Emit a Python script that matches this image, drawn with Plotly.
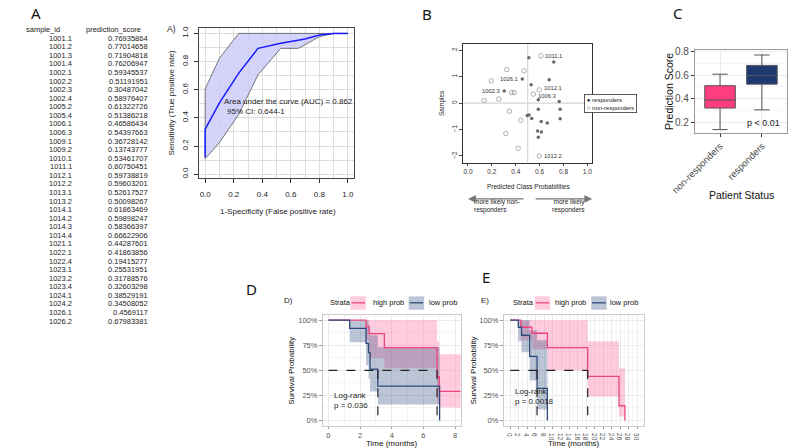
import plotly.graph_objects as go

W, H = 788, 448
FONT = "Liberation Sans"
LETTER_FONT = "Noto Sans"

def px(x):
    return x / W

def py(y):
    return 1 - y / H

# ---------------- Panel A table ----------------
sample_ids = ["1001.1", "1001.2", "1001.3", "1001.4", "1002.1", "1002.2", "1002.3", "1002.4",
              "1005.2", "1005.4", "1006.1", "1006.3", "1009.1", "1009.2", "1010.1", "1011.1",
              "1012.1", "1012.2", "1013.1", "1013.2", "1014.1", "1014.2", "1014.3", "1014.4",
              "1021.1", "1022.1", "1022.4", "1023.1", "1023.2", "1023.4", "1024.1", "1024.2",
              "1026.1", "1026.2"]
prediction_scores = ["0.76935864", "0.77014658", "0.71904818", "0.76206947", "0.59345537",
                     "0.51191951", "0.30487042", "0.58976407", "0.61322726", "0.51386218",
                     "0.46586434", "0.54397663", "0.36728142", "0.13743777", "0.53461707",
                     "0.60750451", "0.59738819", "0.59603201", "0.52617527", "0.50098267",
                     "0.61863469", "0.59898247", "0.58366397", "0.66622906", "0.44287601",
                     "0.41863856", "0.19415277", "0.25531951", "0.31788576", "0.32603298",
                     "0.38529191", "0.34508052", "0.4569117", "0.67983381"]

# ---------------- ROC (A) ----------------
roc_fpr = [0, 0, 0.1, 0.235, 0.37, 0.53, 0.7, 0.8, 0.9, 1.0]
roc_tpr = [0.12, 0.32, 0.507, 0.718, 0.894, 0.93, 0.96, 0.988, 1.0, 1.0]
ci_up_fpr = [0, 0.1, 0.235, 1.0]
ci_up_tpr = [0.606, 0.824, 1.0, 1.0]
ci_lo_fpr = [0, 0.1, 0.235, 0.37, 0.53, 0.653, 0.8, 0.9, 1.0]
ci_lo_tpr = [0.11, 0.225, 0.425, 0.706, 0.894, 0.894, 0.977, 1.0, 1.0]

# ---------------- Panel B ----------------
resp_x = [0.51, 0.719, 0.455, 0.529, 0.68, 0.304, 0.589, 0.764, 0.589, 0.772,
          0.496, 0.512, 0.534, 0.613, 0.664, 0.772, 0.583, 0.615, 0.589]
resp_y = [1.72, 1.56, 0.91, 0.69, 0.88, 0.46, 0.13, 0.06, -0.23, -0.23,
          -0.47, -0.45, -0.58, -0.7, -0.75, -0.59, -1.06, -1.09, -1.29]
nonresp_x = [0.61, 0.325, 0.469, 0.195, 0.597, 0.548, 0.366, 0.388, 0.136, 0.258,
             0.347, 0.442, 0.317, 0.42, 0.597]
nonresp_y = [1.79, 1.27, 1.22, 0.84, 0.5, 0.34, 0.4, 0.4, 0.1, 0.15,
             -0.31, -0.65, -1.15, -1.71, -2.0]
lab_text = ["1011.1", "1026.1", "1002.3", "1012.1", "1006.3", "1012.2"]
lab_x = [0.61, 0.455, 0.304, 0.597, 0.548, 0.597]
lab_y = [1.79, 0.91, 0.46, 0.5, 0.34, -2.0]
lab_side = ["right", "left", "left", "right", "right", "right"]
lab_nudge = [0, 0, 0, 1.5, -1.5, 0]

# ---------------- Panel C ----------------
box_groups = ["non-responders", "responders"]
box_q1 = [0.32, 0.523]
box_med = [0.389, 0.596]
box_q3 = [0.51, 0.682]
box_lo = [0.1374, 0.3049]
box_hi = [0.6075, 0.7701]
box_colors = ["#FF3D7F", "#1D3A70"]

# ---------------- Panel D / E survival ----------------
D_high_t = [0, 2.37, 2.57, 3.53, 6.86, 7.0]
D_high_s = [1, 0.933, 0.867, 0.727, 0.436, 0.29]
D_high_up = [1, 1, 1, 1, 0.79, 0.66]
D_high_lo = [1, 0.8, 0.62, 0.52, 0.17, 0.13]
D_high_end = 8.35
D_low_t = [0, 1.34, 2.37, 2.53, 2.63, 3.12, 7.02]
D_low_s = [1, 0.918, 0.77, 0.677, 0.513, 0.342, 0]
D_low_up = [1, 1, 1, 0.95, 0.85, 0.73, 0]
D_low_lo = [1, 0.78, 0.55, 0.42, 0.29, 0.16, 0]
D_low_end = 7.02

E_high_t = [0, 2.5, 5.1, 8.77, 18.3, 25.7, 27.1]
E_high_s = [1, 0.93, 0.87, 0.727, 0.44, 0.147, 0]
E_high_up = [1, 1, 1, 1, 0.79, 0.52, 0]
E_high_lo = [1, 0.8, 0.71, 0.5, 0.24, 0.04, 0]
E_high_end = 27.1
E_low_t = [0, 1.9, 2.66, 4.58, 6.33, 8.77]
E_low_s = [1, 0.93, 0.85, 0.64, 0.32, 0]
E_low_up = [1, 1, 1, 0.9, 0.8, 0]
E_low_lo = [1, 0.79, 0.68, 0.4, 0.11, 0]
E_low_end = 8.77

PINK = "#EE4580"
NAVY = "#2E4A7D"
PINK_FILL = "rgba(255,105,160,0.35)"
NAVY_FILL = "rgba(46,74,125,0.32)"

fig = go.Figure()

# ROC traces
poly_x = ci_up_fpr + ci_lo_fpr[::-1] + [ci_up_fpr[0]]
poly_y = ci_up_tpr + ci_lo_tpr[::-1] + [ci_up_tpr[0]]
fig.add_trace(go.Scatter(x=poly_x, y=poly_y, mode="lines", fill="toself",
                         fillcolor="rgba(205,205,250,0.85)", line=dict(color="#555555", width=0.8),
                         xaxis="x", yaxis="y", showlegend=False, hoverinfo="skip"))
fig.add_trace(go.Scatter(x=roc_fpr, y=roc_tpr, mode="lines", line=dict(color="#1a1aff", width=1.5),
                         xaxis="x", yaxis="y", showlegend=False))

# Panel B points
fig.add_trace(go.Scatter(x=nonresp_x, y=nonresp_y, mode="markers",
                         marker=dict(symbol="circle-open", size=4.5, color="#9a9a9a", line=dict(width=0.8)),
                         xaxis="x2", yaxis="y2", showlegend=False))
fig.add_trace(go.Scatter(x=resp_x, y=resp_y, mode="markers",
                         marker=dict(symbol="circle", size=3.5, color="#6a6a6a"),
                         xaxis="x2", yaxis="y2", showlegend=False))

# Panel C boxes
for i, g in enumerate(box_groups):
    fig.add_trace(go.Box(x=[i], q1=[box_q1[i]], median=[box_med[i]], q3=[box_q3[i]],
                         lowerfence=[box_lo[i]], upperfence=[box_hi[i]],
                         fillcolor=box_colors[i], line=dict(color="#555555", width=1),
                         width=0.73, xaxis="x3", yaxis="y3", showlegend=False,
                         boxpoints=False))


def steps(t, v, t_end):
    xs, ys = [], []
    for i in range(len(t)):
        t1 = t[i + 1] if i + 1 < len(t) else t_end
        xs += [t[i], t1]
        ys += [v[i], v[i]]
    return xs, ys


def add_surv(t, s, up, lo, t_end, color, fill, xa, ya):
    ux, uy = steps(t, up, t_end)
    lx, ly = steps(t, lo, t_end)
    fig.add_trace(go.Scatter(x=ux + lx[::-1], y=uy + ly[::-1], mode="lines", fill="toself",
                             fillcolor=fill, line=dict(width=0), xaxis=xa, yaxis=ya,
                             showlegend=False, hoverinfo="skip"))
    return (t + [t_end], s + [s[-1]])


def median_time(t, s):
    for ti, si in zip(t, s):
        if si <= 0.5:
            return ti
    return None


lines = []
for (ht, hs, hu, hl, he, lt, ls, lu, ll, le, xa, ya) in [
        (D_high_t, D_high_s, D_high_up, D_high_lo, D_high_end,
         D_low_t, D_low_s, D_low_up, D_low_lo, D_low_end, "x4", "y4"),
        (E_high_t, E_high_s, E_high_up, E_high_lo, E_high_end,
         E_low_t, E_low_s, E_low_up, E_low_lo, E_low_end, "x5", "y5")]:
    hl_line = add_surv(ht, hs, hu, hl, he, PINK, PINK_FILL, xa, ya)
    ll_line = add_surv(lt, ls, lu, ll, le, NAVY, NAVY_FILL, xa, ya)
    fig.add_trace(go.Scatter(x=hl_line[0], y=hl_line[1], mode="lines", line=dict(color=PINK, width=1.3, shape="hv"),
                             xaxis=xa, yaxis=ya, showlegend=False))
    fig.add_trace(go.Scatter(x=ll_line[0], y=ll_line[1], mode="lines", line=dict(color=NAVY, width=1.3, shape="hv"),
                             xaxis=xa, yaxis=ya, showlegend=False))
    mh = median_time(ht, hs)
    ml = median_time(lt, ls)
    mx = max(mh, ml)
    dash = dict(color="#222222", width=1.2, dash="dash")
    lines.append(dict(type="line", xref=xa, yref=ya, x0=0, x1=mx, y0=0.5, y1=0.5, line=dash))
    for m in (mh, ml):
        lines.append(dict(type="line", xref=xa, yref=ya, x0=m, x1=m, y0=0.5, y1=0, line=dash))

# Panel B reference lines
lines.append(dict(type="line", xref="x2", yref="y2", x0=0.5, x1=0.5, y0=-2.25, y1=2.25,
                  line=dict(color="#d5d5d5", width=1.2), layer="below"))
lines.append(dict(type="line", xref="x2", yref="y2", x0=-0.04, x1=1.04, y0=0, y1=0,
                  line=dict(color="#d5d5d5", width=1.2), layer="below"))

ann = []

def text(x, y, s, size=8, color="#222222", xanchor="left", yanchor="middle", family=FONT, angle=0, align="left"):
    ann.append(dict(x=px(x), y=py(y), xref="paper", yref="paper", text=s, showarrow=False,
                    font=dict(family=family, size=size, color=color), xanchor=xanchor,
                    yanchor=yanchor, textangle=angle, align=align))

# Panel letters
text(12, 9, "A", size=15, color="#111", xanchor="center", family=LETTER_FONT)
text(416, 10, "B", size=15, color="#111", xanchor="center", family=LETTER_FONT)
text(675, 9, "C", size=15, color="#111", xanchor="center", family=LETTER_FONT)
text(235, 288, "D", size=15, color="#111", xanchor="center", family=LETTER_FONT)
text(477, 275, "E", size=15, color="#111", xanchor="center", family=LETTER_FONT)

# Table
text(0, 26, "sample_id", size=7.5)
text(62, 26, "prediction_score", size=7.5)
for i, (sid, sc) in enumerate(zip(sample_ids, prediction_scores)):
    yy = 34.5 + i * 8.65
    text(52, yy, sid, size=7.5, xanchor="right")
    text(130, yy, sc, size=7.5, xanchor="right")

# ROC texts
text(145, 25, "A)", size=8.5)
text(204, 98, "Area under the curve (AUC) = 0.862", size=8)
text(207, 108, "95% CI: 0.644-1", size=8)
text(262, 209, "1-Specificity (False positive rate)", size=8, xanchor="center")
text(152, 100, "Sensitivity (True positive rate)", size=8, xanchor="center", angle=-90)

# Panel B texts
for s, x, y, side, nud in zip(lab_text, lab_x, lab_y, lab_side, lab_nudge):
    ann.append(dict(x=x, y=y, xref="x2", yref="y2", text=s, showarrow=False,
                    font=dict(family=FONT, size=5.8, color="#333"),
                    xanchor="left" if side == "right" else "right",
                    xshift=2.5 if side == "right" else -2.5, yshift=nud))
text(520, 184, "Predicted Class Probabilities", size=6.5, xanchor="center")
text(431, 100, "Samples", size=6.5, xanchor="center", angle=-90)
text(462, 203.5, "more likely non-<br>responders", size=6.5, align="left")
text(581, 203.5, "more likely<br>responders", size=6.5, xanchor="right", align="right")
ann.append(dict(x=px(458), y=py(196.7), xref="paper", yref="paper", ax=57, ay=0,
                axref="pixel", ayref="pixel", text="", showarrow=True, arrowhead=2,
                arrowsize=1.3, arrowwidth=1.2, arrowcolor="#777"))
ann.append(dict(x=px(586), y=py(196.7), xref="paper", yref="paper", ax=-58, ay=0,
                axref="pixel", ayref="pixel", text="", showarrow=True, arrowhead=2,
                arrowsize=1.3, arrowwidth=1.2, arrowcolor="#777"))
ann.append(dict(x=px(578), y=py(100), xref="paper", yref="paper",
                text="\u25cf responders<br>\u25cb non-responders", showarrow=False,
                font=dict(family=FONT, size=6, color="#222"), xanchor="left", yanchor="middle",
                align="left", bordercolor="#333", borderwidth=0.8, borderpad=2, bgcolor="white"))

# Panel C texts
text(763, 120, "p < 0.01", size=9, xanchor="center")
text(665, 88, "Prediction Score", size=10.5, xanchor="center", angle=-90, color="#111")
text(740, 193, "Patient Status", size=10.5, xanchor="center", color="#111")

# Panel D/E texts
SF = 8
text(273, 299, "D)", size=8, xanchor="center")
text(475, 299, "E)", size=8, xanchor="center")
text(314, 301.5, "Strata", size=7.5, color="#111")
text(502, 301.5, "Strata", size=7.5, color="#111")
text(276.5, 370, "Survival Probability", size=8, xanchor="center", angle=-90, color="#111")
text(380, 443, "Time (months)", size=8, xanchor="center", color="#111")
text(318, 395, "Log-rank", size=SF)
text(318, 405, "p = 0.036", size=SF)
text(464, 370, "Survival Probability", size=8, xanchor="center", angle=-90, color="#111")
text(567, 443, "Time (months)", size=8, xanchor="center", color="#111")
text(504, 390.5, "Log-rank", size=SF)
text(504, 401, "p = 0.0018", size=SF)

# legends (D/E)
for (kp, tp, kn, tn) in [(336.7, 358.3, 396.7, 416), (526.7, 546, 585, 602.7)]:
    for (k, tx, fill, col, lab) in [(kp, tp, PINK_FILL, PINK, "high prob"), (kn, tn, NAVY_FILL, NAVY, "low prob")]:
        lines.append(dict(type="rect", xref="paper", yref="paper", x0=px(k), x1=px(k + 16),
                          y0=py(308.5), y1=py(295), fillcolor=fill, line=dict(width=0)))
        lines.append(dict(type="line", xref="paper", yref="paper", x0=px(k + 1), x1=px(k + 15),
                          y0=py(301.5), y1=py(301.5), line=dict(color=col, width=1.3)))
        text(tx, 301.5, lab, size=7.5, color="#111")

grid = "#EBEBEB"
grid_minor = "#F5F5F5"

layout = dict(
    width=W, height=H, margin=dict(l=0, r=0, t=0, b=0),
    paper_bgcolor="white", plot_bgcolor="white",
    showlegend=False,
    font=dict(family=FONT, size=8, color="#222"),
    annotations=ann, shapes=lines,
    # ROC
    xaxis=dict(domain=[px(181), px(340)], range=[-0.04, 1.04], tickvals=[0, 0.2, 0.4, 0.6, 0.8, 1.0],
               ticktext=["0.0", "0.2", "0.4", "0.6", "0.8", "1.0"], ticks="outside", ticklen=4,
               tickcolor="#333", showline=True, mirror=True, linecolor="#444", linewidth=1,
               showgrid=True, gridcolor="#dcdcdc", zeroline=False,
               minor=dict(dtick=0.1, tick0=0, showgrid=True, gridcolor="#dcdcdc"),
               tickfont=dict(size=8, color="#222"), anchor="y", ticklabelstandoff=4),
    yaxis=dict(domain=[py(176), py(24)], range=[-0.03, 1.04], tickvals=[0, 0.2, 0.4, 0.6, 0.8, 1.0],
               ticktext=["0.0", "0.2", "0.4", "0.6", "0.8", "1.0"], ticks="outside", ticklen=4,
               tickcolor="#333", showline=True, mirror=True, linecolor="#444", linewidth=1,
               showgrid=True, gridcolor="#dcdcdc", zeroline=False, tickangle=-90,
               minor=dict(dtick=0.1, tick0=0, showgrid=True, gridcolor="#dcdcdc"),
               tickfont=dict(size=8, color="#222"), anchor="x", ticklabelstandoff=3),
    # B
    xaxis2=dict(domain=[px(453), px(586)], range=[-0.04, 1.04], tickvals=[0, 0.2, 0.4, 0.6, 0.8, 1.0],
                ticktext=["0.0", "0.2", "0.4", "0.6", "0.8", "1.0"], ticks="outside", ticklen=3,
                showline=True, mirror=True, linecolor="#333", linewidth=0.8, showgrid=False,
                zeroline=False, tickfont=dict(size=6.5, color="#333"), anchor="y2"),
    yaxis2=dict(domain=[py(160), py(40)], range=[-2.25, 2.25], tickvals=[-2, -1, 0, 1, 2],
                ticks="outside", ticklen=3, showline=True, mirror=True, linecolor="#333", linewidth=0.8,
                showgrid=False, zeroline=False, tickangle=-90, tickfont=dict(size=6.5, color="#333"),
                anchor="x2"),
    # C
    xaxis3=dict(domain=[px(692), px(787)], range=[-0.6, 1.6], tickvals=[0, 1], ticktext=box_groups,
                tickangle=-45, ticks="outside", ticklen=3, tickcolor="#333", showline=True, mirror=True,
                linecolor="#9a9a9a", linewidth=1, showgrid=True, gridcolor=grid, zeroline=False,
                tickfont=dict(size=9.5, color="#4D4D4D"), anchor="y3"),
    yaxis3=dict(domain=[py(130), py(46.7)], range=[0.11, 0.81], tickvals=[0.2, 0.4, 0.6, 0.8],
                ticktext=["0.2", "0.4", "0.6", "0.8"], ticks="outside", ticklen=3, tickcolor="#333",
                showline=True, mirror=True, linecolor="#9a9a9a", linewidth=1, showgrid=True, gridcolor=grid,
                minor=dict(tickvals=[0.3, 0.5, 0.7], showgrid=True, gridcolor=grid_minor),
                zeroline=False, tickfont=dict(size=10, color="#4D4D4D"), anchor="x3"),
    # D
    xaxis4=dict(domain=[px(308.3), px(450.7)], range=[-0.35, 8.37], tickvals=[0, 2, 4, 6, 8],
                ticks="outside", ticklen=2, tickcolor="#999", showline=True, mirror=True,
                linecolor="#cccccc", linewidth=1, showgrid=True, gridcolor=grid, zeroline=False,
                minor=dict(tickvals=[1, 3, 5, 7], showgrid=True, gridcolor=grid_minor),
                tickfont=dict(size=7.5, color="#555"), anchor="y4", ticklabelstandoff=0),
    yaxis4=dict(domain=[py(425.3), py(314)], range=[-0.05, 1.05], tickvals=[0, 0.25, 0.5, 0.75, 1.0],
                ticktext=["0%", "25%", "50%", "75%", "100%"], ticks="outside", ticklen=3, tickcolor="#999",
                showline=True, mirror=True, linecolor="#cccccc", linewidth=1, showgrid=True,
                gridcolor=grid, zeroline=False,
                minor=dict(tickvals=[0.125, 0.375, 0.625, 0.875], showgrid=True, gridcolor=grid_minor),
                tickfont=dict(size=7.5, color="#555"), anchor="x4"),
    # E
    xaxis5=dict(domain=[px(495), px(639)], range=[-1.5, 31.5], tickvals=list(range(0, 31, 2)),
                ticks="outside", ticklen=2, tickcolor="#999", showline=True, mirror=True,
                linecolor="#cccccc", linewidth=1, showgrid=True, gridcolor=grid, zeroline=False,
                minor=dict(tickvals=list(range(1, 31, 2)), showgrid=True, gridcolor=grid_minor),
                tickfont=dict(size=6.5, color="#555"), anchor="y5", ticklabelstandoff=0),
    yaxis5=dict(domain=[py(425.3), py(314)], range=[-0.05, 1.05], tickvals=[0, 0.25, 0.5, 0.75, 1.0],
                ticktext=["0%", "25%", "50%", "75%", "100%"], ticks="outside", ticklen=3, tickcolor="#999",
                showline=True, mirror=True, linecolor="#cccccc", linewidth=1, showgrid=True,
                gridcolor=grid, zeroline=False,
                minor=dict(tickvals=[0.125, 0.375, 0.625, 0.875], showgrid=True, gridcolor=grid_minor),
                tickfont=dict(size=7.5, color="#555"), anchor="x5"),
)
fig.update_layout(**layout)
fig.write_html("out.html")
